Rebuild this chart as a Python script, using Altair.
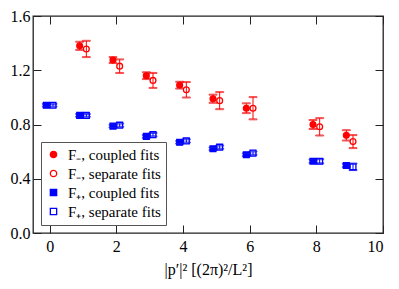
import altair as alt
import pandas as pd

# ---- data ----
series_names = ["F₋, coupled fits", "F₋, separate fits", "F₊, coupled fits", "F₊, separate fits"]

xs_minus = [1, 2, 3, 4, 5, 6, 8, 9]
fm_coupled = [1.38, 1.275, 1.16, 1.09, 0.99, 0.92, 0.80, 0.72]
fm_coupled_err = [0.03, 0.022, 0.025, 0.025, 0.03, 0.036, 0.033, 0.038]
fm_sep = [1.357, 1.23, 1.125, 1.056, 0.976, 0.92, 0.783, 0.674]
fm_sep_err = [0.06, 0.05, 0.055, 0.057, 0.063, 0.082, 0.064, 0.048]

xs_plus = [0, 1, 2, 3, 4, 5, 6, 8, 9]
fp_coupled = [0.942, 0.867, 0.788, 0.712, 0.669, 0.621, 0.577, 0.529, 0.498]
fp_coupled_err = [0.01, 0.01, 0.01, 0.01, 0.01, 0.01, 0.01, 0.012, 0.012]
fp_sep = [0.942, 0.867, 0.795, 0.725, 0.679, 0.633, 0.589, 0.529, 0.488]
fp_sep_err = [0.01, 0.01, 0.012, 0.012, 0.012, 0.012, 0.012, 0.015, 0.024]

x_ticks = [0, 2, 4, 6, 8, 10]
y_ticks = [0.0, 0.4, 0.8, 1.2, 1.6]

colors_stroke = ["#ff0000", "#ff0000", "#0000ff", "#0000ff"]
colors_fill = ["#ff0000", "#ffffff", "#0000ff", "#ffffff"]
shapes = ["circle", "circle", "square", "square"]
offsets = {series_names[0]: -0.1, series_names[1]: 0.1, series_names[2]: -0.1, series_names[3]: 0.1}

rows = []
for name, xs, ys, es in [
    (series_names[0], xs_minus, fm_coupled, fm_coupled_err),
    (series_names[1], xs_minus, fm_sep, fm_sep_err),
    (series_names[2], xs_plus, fp_coupled, fp_coupled_err),
    (series_names[3], xs_plus, fp_sep, fp_sep_err),
]:
    for x, y, e in zip(xs, ys, es):
        rows.append({"series": name, "x": x + offsets[name], "y": y, "lo": y - e, "hi": y + e})
df = pd.DataFrame(rows)

W, H = 350, 217
FONT = "Liberation Serif"

xscale = alt.Scale(domain=[-0.5, 10], nice=False, zero=False)
yscale = alt.Scale(domain=[0, 1.6], nice=False, zero=False)

xaxis = alt.Axis(values=x_ticks, format="d", tickSize=0, labelPadding=5, domain=False,
                 grid=True, gridColor="#222", gridWidth=1, gridDash=[8, H - 16, 8, 2000],
                 titlePadding=7)
yaxis = alt.Axis(values=y_ticks, format=".1f", tickSize=0, labelPadding=3, domain=False,
                 grid=True, gridColor="#222", gridWidth=1, gridDash=[8, W - 16, 8, 2000])

X = alt.X("x:Q", scale=xscale, axis=xaxis, title="|p′|² [(2π)²/L²]")

base = alt.Chart(df)

stroke_enc = alt.Stroke("series:N", scale=alt.Scale(domain=series_names, range=colors_stroke), legend=None)

legend = alt.Legend(title=None, orient="bottom-left", offset=8)

points = base.mark_point(size=34, strokeWidth=1.3, opacity=1).encode(
    x=X, y=alt.Y("y:Q", scale=yscale, axis=yaxis, title=None),
    color=alt.Color("series:N", scale=alt.Scale(domain=series_names, range=colors_stroke), legend=legend),
    shape=alt.Shape("series:N", scale=alt.Scale(domain=series_names, range=shapes), legend=legend),
    fill=alt.Fill("series:N", scale=alt.Scale(domain=series_names, range=colors_fill), legend=legend),
)

rules = base.mark_rule(strokeWidth=1).encode(
    x=X,
    y=alt.Y("lo:Q", scale=yscale, axis=yaxis, title=None),
    y2="hi:Q",
    stroke=stroke_enc,
)
cap_lo = base.mark_tick(orient="horizontal", size=8, thickness=1).encode(
    x=X, y=alt.Y("lo:Q", scale=yscale, axis=yaxis, title=None), stroke=stroke_enc)
cap_hi = base.mark_tick(orient="horizontal", size=8, thickness=1).encode(
    x=X, y=alt.Y("hi:Q", scale=yscale, axis=yaxis, title=None), stroke=stroke_enc)

chart = alt.layer(points, rules, cap_lo, cap_hi).properties(
    width=W, height=H,
    background="white",
    padding={"left": 2, "top": 0, "right": 5, "bottom": 5},
).configure_view(
    stroke="#222", strokeWidth=1.3
).configure_axis(
    labelFont=FONT, titleFont=FONT, labelFontSize=16, titleFontSize=16,
    titleFontWeight="normal", labelColor="#000", titleColor="#000",
).configure_legend(
    labelFont=FONT, labelFontSize=15, labelColor="#000",
    strokeColor="#555", padding=5, rowPadding=3,
    symbolStrokeWidth=1.3, symbolSize=40, labelOffset=7,
    fillColor="#ffffff",
)

chart.save("out.html", embed_options={"renderer": "svg", "actions": False})
